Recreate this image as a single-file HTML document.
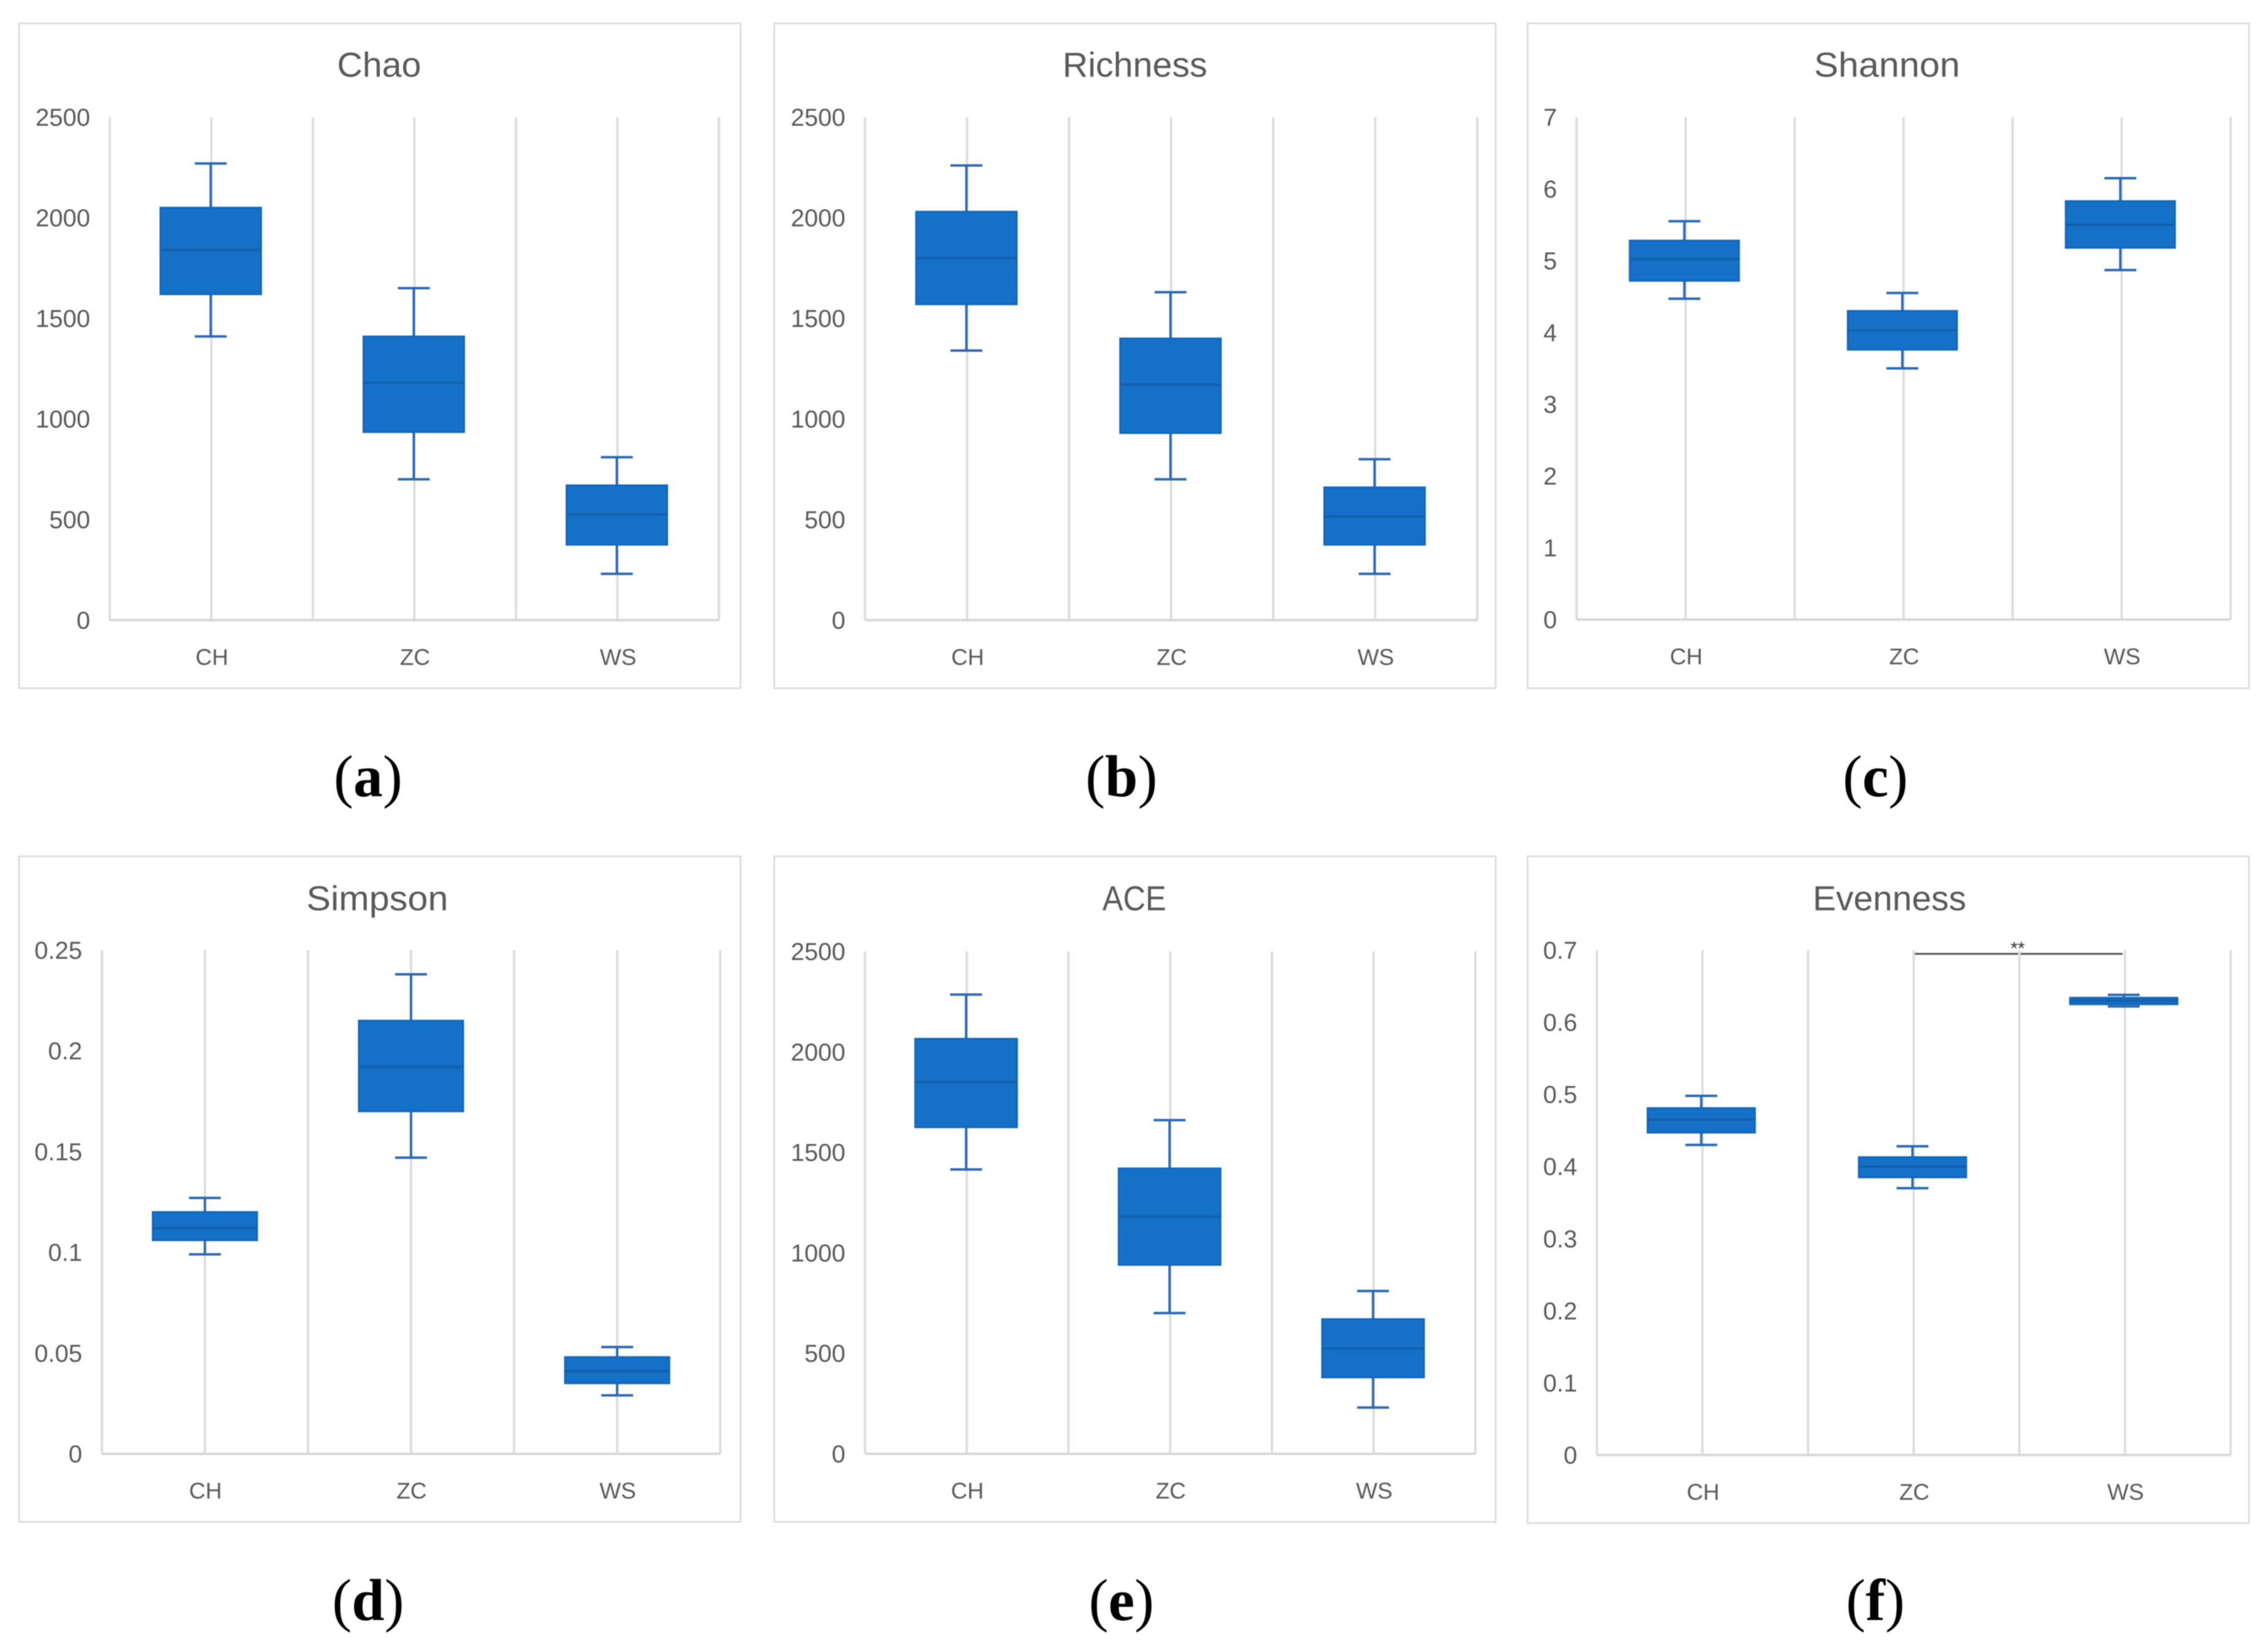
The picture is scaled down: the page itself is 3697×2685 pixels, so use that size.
<!DOCTYPE html>
<html lang="en">
<head>
<meta charset="utf-8">
<title>Alpha diversity box plots</title>
<style>
html,body{margin:0;padding:0;background:#fff;}
svg{display:block;filter:blur(0.9px);}
text{font-family:"Liberation Sans",sans-serif;fill:#595959;}
.title{font-size:57px;text-anchor:middle;}
.caption{font-family:"Liberation Serif",serif;font-size:96px;text-anchor:middle;fill:#000;}
.caption tspan{font-family:"Liberation Serif",serif;fill:#000;}
.frame{fill:#fff;stroke:#dedede;stroke-width:3;}
</style>
</head>
<body>
<svg id="figure" xmlns="http://www.w3.org/2000/svg" width="3697" height="2685" viewBox="0 0 3697 2685">
  <rect x="0" y="0" width="3697" height="2685" fill="#fff"/>
  <g id="panel-chao">
    <rect class="frame" x="31" y="38" width="1176" height="1084"/>
    <text class="title" x="618" y="125" textLength="137" lengthAdjust="spacingAndGlyphs">Chao</text>
  </g>
  <g id="panel-richness">
    <rect class="frame" x="1262" y="38" width="1176" height="1084"/>
    <text class="title" x="1850" y="125" textLength="236" lengthAdjust="spacingAndGlyphs">Richness</text>
  </g>
  <g id="panel-shannon">
    <rect class="frame" x="2490" y="38" width="1176" height="1084"/>
    <text class="title" x="3076" y="125" textLength="238" lengthAdjust="spacingAndGlyphs">Shannon</text>
  </g>
  <g id="panel-simpson">
    <rect class="frame" x="31" y="1396" width="1176" height="1085"/>
    <text class="title" x="615" y="1484" textLength="231" lengthAdjust="spacingAndGlyphs">Simpson</text>
  </g>
  <g id="panel-ace">
    <rect class="frame" x="1262" y="1396" width="1176" height="1085"/>
    <text class="title" x="1849" y="1484" textLength="104" lengthAdjust="spacingAndGlyphs">ACE</text>
  </g>
  <g id="panel-evenness">
    <rect class="frame" x="2490" y="1396" width="1176" height="1087"/>
    <text class="title" x="3080" y="1484">Evenness</text>
    <line x1="3120" y1="1555" x2="3460" y2="1555" stroke="#555" stroke-width="3"/>
    <text x="3289" y="1556" font-size="30" text-anchor="middle" style="fill:#333">**</text>
  </g>
  <text class="caption" x="600" y="1298">(<tspan font-weight="bold">a</tspan>)</text>
  <text class="caption" x="1828" y="1298">(<tspan font-weight="bold">b</tspan>)</text>
  <text class="caption" x="3057" y="1298">(<tspan font-weight="bold">c</tspan>)</text>
  <text class="caption" x="600" y="2641">(<tspan font-weight="bold">d</tspan>)</text>
  <text class="caption" x="1828" y="2641">(<tspan font-weight="bold">e</tspan>)</text>
  <text class="caption" x="3057" y="2641">(<tspan font-weight="bold">f</tspan>)</text>
</svg>
<script>
// Shared categories
const categories = ["CH", "ZC", "WS"];

// Chao
const chaoTicks = [0, 500, 1000, 1500, 2000, 2500];
const chaoLow = [1410, 700, 230];
const chaoQ1 = [1620, 935, 375];
const chaoMedian = [1840, 1180, 525];
const chaoQ3 = [2050, 1410, 670];
const chaoHigh = [2270, 1650, 810];

// Richness
const richnessTicks = [0, 500, 1000, 1500, 2000, 2500];
const richnessLow = [1340, 700, 230];
const richnessQ1 = [1570, 930, 375];
const richnessMedian = [1800, 1170, 515];
const richnessQ3 = [2030, 1400, 660];
const richnessHigh = [2260, 1630, 800];

// Shannon
const shannonTicks = [0, 1, 2, 3, 4, 5, 6, 7];
const shannonLow = [4.47, 3.5, 4.87];
const shannonQ1 = [4.72, 3.76, 5.18];
const shannonMedian = [5.02, 4.03, 5.5];
const shannonQ3 = [5.28, 4.3, 5.83];
const shannonHigh = [5.55, 4.55, 6.15];

// Simpson
const simpsonTicks = [0, 0.05, 0.1, 0.15, 0.2, 0.25];
const simpsonLow = [0.099, 0.147, 0.029];
const simpsonQ1 = [0.106, 0.17, 0.035];
const simpsonMedian = [0.112, 0.192, 0.041];
const simpsonQ3 = [0.12, 0.215, 0.048];
const simpsonHigh = [0.127, 0.238, 0.053];

// ACE
const aceTicks = [0, 500, 1000, 1500, 2000, 2500];
const aceLow = [1415, 700, 230];
const aceQ1 = [1625, 940, 380];
const aceMedian = [1850, 1180, 525];
const aceQ3 = [2065, 1420, 670];
const aceHigh = [2285, 1660, 810];

// Evenness
const evennessTicks = [0, 0.1, 0.2, 0.3, 0.4, 0.5, 0.6, 0.7];
const evennessLow = [0.43, 0.37, 0.622];
const evennessQ1 = [0.447, 0.385, 0.625];
const evennessMedian = [0.465, 0.4, 0.63];
const evennessQ3 = [0.481, 0.413, 0.634];
const evennessHigh = [0.498, 0.428, 0.638];

const NS = "http://www.w3.org/2000/svg";

function makeNode(parent, tag, props) {
  const el = document.createElementNS(NS, tag);
  for (const key in props) el.setAttribute(key, props[key]);
  parent.appendChild(el);
  return el;
}

function drawPanel(cfg) {
  const group = document.getElementById("panel-" + cfg.key);
  const maxValue = cfg.ticks[cfg.ticks.length - 1];
  const yScale = v => cfg.bottom - (v / maxValue) * (cfg.bottom - cfg.top);
  const bandWidth = (cfg.right - cfg.left) / categories.length;
  const xEdge = i => cfg.left + i * bandWidth;
  const xCenter = i => cfg.left + (i + 0.5) * bandWidth;

  // category separators and centre gridlines
  for (let i = 0; i <= categories.length; i++) {
    const sep = makeNode(group, "line", {x1: xEdge(i), x2: xEdge(i), y1: cfg.top, y2: cfg.bottom, stroke: "#dedede", "stroke-width": 4});
    
    
  }
  categories.forEach((cat, i) => {
    const grid = makeNode(group, "line", {x1: xCenter(i), x2: xCenter(i), y1: cfg.top, y2: cfg.bottom, stroke: "#dedede", "stroke-width": 4});
    
    
  });
  const axis = makeNode(group, "line", {x1: cfg.left, x2: cfg.right, y1: cfg.bottom, y2: cfg.bottom, stroke: "#d8d8d8", "stroke-width": 4});
  
  

  // y tick labels
  cfg.ticks.forEach(t => {
    const label = makeNode(group, "text", {x: cfg.left - 32, y: yScale(t) + 14, "text-anchor": "end", "font-size": 40});
    label.textContent = String(t);
    
    
  });

  // x labels and boxes
  categories.forEach((cat, i) => {
    const cx = xCenter(i) + cfg.boxShift;
    const label = makeNode(group, "text", {x: xCenter(i) + 1, y: cfg.bottom + 73, "text-anchor": "middle", "font-size": 37});
    label.textContent = cat;
    
    

    const stem = makeNode(group, "line", {x1: cx, x2: cx, y1: yScale(cfg.high[i]), y2: yScale(cfg.low[i]), stroke: "#2c69b3", "stroke-width": 4});
    
    

    [cfg.high[i], cfg.low[i]].forEach(v => {
      const cap = makeNode(group, "line", {x1: cx - 26, x2: cx + 26, y1: yScale(v), y2: yScale(v), stroke: "#2c69b3", "stroke-width": 4});
      
      
    });

    const boxTop = yScale(cfg.q3[i]);
    const boxBottom = yScale(cfg.q1[i]);
    const box = makeNode(group, "rect", {x: cx - cfg.boxWidth / 2, y: boxTop, width: cfg.boxWidth, height: boxBottom - boxTop, fill: "#1570c8", stroke: "#1467b9", "stroke-width": 3});
    
    

    const median = makeNode(group, "line", {x1: cx - cfg.boxWidth / 2, x2: cx + cfg.boxWidth / 2, y1: yScale(cfg.median[i]), y2: yScale(cfg.median[i]), stroke: "#1360ab", "stroke-width": 4});
    
    
  });
}

drawPanel({key: "chao", ticks: chaoTicks, low: chaoLow, q1: chaoQ1, median: chaoMedian, q3: chaoQ3, high: chaoHigh, left: 179, right: 1172, top: 191, bottom: 1011, boxWidth: 164, boxShift: -1});
drawPanel({key: "richness", ticks: richnessTicks, low: richnessLow, q1: richnessQ1, median: richnessMedian, q3: richnessQ3, high: richnessHigh, left: 1410, right: 2408, top: 191, bottom: 1011, boxWidth: 164, boxShift: -1});
drawPanel({key: "shannon", ticks: shannonTicks, low: shannonLow, q1: shannonQ1, median: shannonMedian, q3: shannonQ3, high: shannonHigh, left: 2570, right: 3636, top: 191, bottom: 1010, boxWidth: 178, boxShift: -2});
drawPanel({key: "simpson", ticks: simpsonTicks, low: simpsonLow, q1: simpsonQ1, median: simpsonMedian, q3: simpsonQ3, high: simpsonHigh, left: 166, right: 1174, top: 1549, bottom: 2370, boxWidth: 170, boxShift: 0});
drawPanel({key: "ace", ticks: aceTicks, low: aceLow, q1: aceQ1, median: aceMedian, q3: aceQ3, high: aceHigh, left: 1410, right: 2405, top: 1551, bottom: 2370, boxWidth: 166, boxShift: -1});
drawPanel({key: "evenness", ticks: evennessTicks, low: evennessLow, q1: evennessQ1, median: evennessMedian, q3: evennessQ3, high: evennessHigh, left: 2603, right: 3636, top: 1549, bottom: 2372, boxWidth: 175, boxShift: -2});
</script>
</body>
</html>
